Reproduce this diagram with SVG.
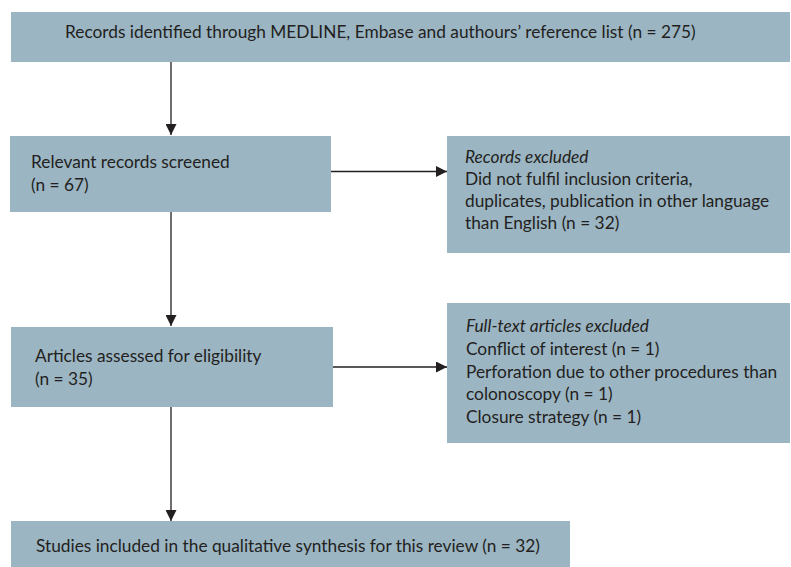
<svg xmlns="http://www.w3.org/2000/svg" width="791" height="567" viewBox="0 0 791 567">
<defs>
<style>
.box{fill:#9bb5c3;}
text{font-family:Lato,"Open Sans","Liberation Sans",sans-serif;font-size:17.3px;fill:#231f20;}
.it{font-style:italic;}
.ln{stroke:#231f20;stroke-width:1.3;fill:none;}
</style>
<marker id="ah" viewBox="0 0 10 10" refX="10" refY="5" markerWidth="11" markerHeight="11" markerUnits="userSpaceOnUse" orient="auto">
<path d="M0,0 L10,5 L0,10 z" fill="#231f20"/>
</marker>
</defs>
<g id="connectors">
<line class="ln" x1="171" y1="62" x2="171" y2="135" marker-end="url(#ah)"/>
<line class="ln" x1="171" y1="212" x2="171" y2="326" marker-end="url(#ah)"/>
<line class="ln" x1="171" y1="407" x2="171" y2="521" marker-end="url(#ah)"/>
<line class="ln" x1="331" y1="171.5" x2="447" y2="171.5" marker-end="url(#ah)"/>
<line class="ln" x1="333" y1="367" x2="447" y2="367" marker-end="url(#ah)"/>
</g>
<g id="n1">
<rect class="box" x="11" y="12" width="779" height="50"/>
<text x="65" y="38">Records identified through MEDLINE, Embase and authours’ reference list (n = 275)</text>
</g>
<g id="n2">
<rect class="box" x="10" y="136" width="321" height="76"/>
<text x="31" y="168">Relevant records screened</text>
<text x="31" y="191">(n = 67)</text>
</g>
<g id="n3">
<rect class="box" x="447" y="136" width="343" height="117"/>
<text x="465" y="163" class="it">Records excluded</text>
<text x="465" y="185">Did not fulfil inclusion criteria,</text>
<text x="465" y="207">duplicates, publication in other language</text>
<text x="465" y="229">than English (n = 32)</text>
</g>
<g id="n4">
<rect class="box" x="11" y="327" width="322" height="80"/>
<text x="35" y="362">Articles assessed for eligibility</text>
<text x="35" y="385">(n = 35)</text>
</g>
<g id="n5">
<rect class="box" x="447" y="303" width="343" height="140"/>
<text x="466" y="332" class="it">Full-text articles excluded</text>
<text x="466" y="355">Conflict of interest (n = 1)</text>
<text x="466" y="378">Perforation due to other procedures than</text>
<text x="466" y="400">colonoscopy (n = 1)</text>
<text x="466" y="423">Closure strategy (n = 1)</text>
</g>
<g id="n6">
<rect class="box" x="11" y="521" width="559" height="46"/>
<text x="36" y="552">Studies included in the qualitative synthesis for this review (n = 32)</text>
</g>
</svg>
